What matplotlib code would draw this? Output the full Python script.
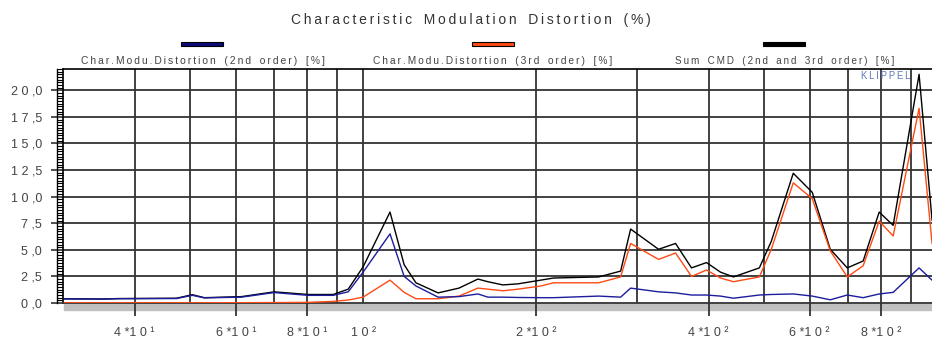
import matplotlib.pyplot as plt
from matplotlib import font_manager
from matplotlib.patches import Rectangle
from matplotlib.lines import Line2D
from matplotlib.ticker import MultipleLocator, NullLocator, FixedLocator

# use a narrow face if there is one, otherwise Liberation Sans
installed = {f.name for f in font_manager.fontManager.ttflist}
face = 'Liberation Sans'
for cand in ['Liberation Sans Narrow', 'Arial Narrow']:
    if cand in installed:
        face = cand
        break
plt.rcParams['font.family'] = [face, 'DejaVu Sans']

# frequency (Hz) and distortion values (%)
freq = [30.2, 35.3, 37.5, 47.3, 50.4, 52.9, 61.4, 70.0, 80.2, 88.7, 94.2, 100,
        111.4, 117.9, 123.6, 135.1, 146.9, 158.5, 165.0, 175.2, 186.1, 204.0,
        214.8, 257.3, 281.0, 292.5, 327.2, 350.3, 373.4, 396.6, 419.5, 441.8,
        490.2, 514.3, 561.7, 606.2, 651.6, 697.6, 743.5, 792.9, 838.6, 930.5, 980.2]
cmd_2nd = [0.38, 0.36, 0.40, 0.42, 0.72, 0.48, 0.55, 0.98, 0.72, 0.72, 1.05, 2.9,
           6.5, 2.5, 1.6, 0.55, 0.6, 0.85, 0.55, 0.55, 0.52, 0.5,
           0.5, 0.65, 0.55, 1.4, 1.05, 0.95, 0.75, 0.75, 0.65, 0.45,
           0.75, 0.8, 0.85, 0.65, 0.3, 0.75, 0.5, 0.85, 1.0, 3.3, 2.15]
cmd_3rd = [0.02, 0.02, 0.02, 0.02, 0.02, 0.02, 0.03, 0.04, 0.06, 0.15, 0.28, 0.55,
           2.15, 1.0, 0.4, 0.4, 0.65, 1.4, 1.3, 1.15, 1.3, 1.6,
           1.9, 1.9, 2.45, 5.6, 4.1, 4.7, 2.5, 3.1, 2.35, 2.0,
           2.45, 5.05, 11.3, 9.8, 4.9, 2.45, 3.5, 7.7, 6.3, 18.3, 5.6]
cmd_sum = [0.40, 0.38, 0.42, 0.45, 0.78, 0.5, 0.6, 1.05, 0.8, 0.8, 1.3, 3.4,
           8.55, 3.6, 1.9, 0.95, 1.4, 2.25, 2.0, 1.7, 1.8, 2.15,
           2.35, 2.45, 3.0, 6.95, 5.05, 5.6, 3.3, 3.8, 2.9, 2.45,
           3.3, 5.8, 12.2, 10.4, 5.05, 3.3, 3.95, 8.55, 7.3, 21.5, 7.8]

y_ticks = [0, 2.5, 5, 7.5, 10, 12.5, 15, 17.5, 20]
y_labels = ['0 ,0', '2 ,5', '5 ,0', '7 ,5', '1 0 ,0', '1 2 ,5', '1 5 ,0', '1 7 ,5', '2 0 ,0']
x_ticks = [40, 60, 80, 100, 200, 400, 600, 800]
x_labels = ['4 *1 0 ¹', '6 *1 0 ¹', '8 *1 0 ¹', '1 0 ²', '2 *1 0 ²', '4 *1 0 ²', '6 *1 0 ²', '8 *1 0 ²']
x_grid = [40, 50, 60, 70, 80, 90, 100, 200, 300, 400, 500, 600, 700, 800, 900]

title = 'Characteristic Modulation Distortion (%)'
names = ['Char.Modu.Distortion (2nd order) [%]',
         'Char.Modu.Distortion (3rd order) [%]',
         'Sum CMD (2nd and 3rd order) [%]']
colors = ['#1c1c9c', '#ff4a14', '#000000']
legend_colors = ['#0a0a78', '#ff4a14', '#000000']

W, H = 932, 338
fig = plt.figure(figsize=(W / 100, H / 100), dpi=100)
ax = fig.add_axes([63 / W, 1 - 303 / H, 1 - 63 / W, (303 - 69) / H])
renderer = fig.canvas.get_renderer()


def spaced(s):
    # letter-spaced look of the original: thin space between letters
    return '   '.join('\u2009'.join(word) for word in s.split(' '))


def fitted_text(x, y, s, width_px, **kw):
    # scale the font so the string covers the same width as in the picture
    t = fig.text(x / W, 1 - y / H, s, fontsize=10, ha='center', va='center', **kw)
    w = t.get_window_extent(renderer).width
    t.set_fontsize(10 * width_px / w)
    return t


ax.set_xscale('log')
ax.set_xlim(30, 980)
ax.set_ylim(0, 22)

for y in y_ticks[1:]:
    ax.axhline(y, color='#333333', lw=1.3, zorder=1)
for x in x_grid:
    ax.axvline(x, color='#333333', lw=1.3, zorder=1)

ax.plot(freq, cmd_sum, color=colors[2], lw=1.0, zorder=3)
ax.plot(freq, cmd_3rd, color=colors[1], lw=1.0, zorder=4)
ax.plot(freq, cmd_2nd, color=colors[0], lw=1.0, zorder=5)

ax.xaxis.set_major_locator(FixedLocator(x_ticks))
ax.xaxis.set_minor_locator(NullLocator())
ax.set_xticklabels(x_labels)
ax.tick_params(axis='x', which='major', length=9, width=1.3, color='#333333',
               labelsize=9, labelcolor='#444444', pad=8)
ax.xaxis.get_major_ticks()[3].tick1line.set_visible(False)

ax.yaxis.set_major_locator(FixedLocator(y_ticks))
ax.yaxis.set_minor_locator(MultipleLocator(0.25))
ax.set_yticklabels(y_labels)
ax.tick_params(axis='y', which='major', length=9, width=1.2, color='#333333',
               labelsize=9, labelcolor='#444444', pad=6)
ax.tick_params(axis='y', which='minor', length=4.3, width=0.8, color='black')

ax.spines['right'].set_visible(False)
ax.spines['top'].set_linewidth(1.2)
ax.spines['left'].set_linewidth(1.2)
ax.spines['bottom'].set_linewidth(1.3)
ax.spines['bottom'].set_color('#333333')

# ladder border and grey band under the axis
fig.add_artist(Line2D([57 / W, 57 / W], [1 - 303 / H, 1 - 69 / H], color='black', lw=1.0))
fig.add_artist(Rectangle((64 / W, 1 - 310 / H), 1 - 64 / W, 6 / H,
                         transform=fig.transFigure, color='#c0c0c0', zorder=-1))

fitted_text(471, 20, spaced(title), 361, color='#333333')

bar_x = [181, 472, 763]
label_x = [203, 493, 785]
label_w = [245, 240, 220]
for bx, lx, lw_, name, c in zip(bar_x, label_x, label_w, names, legend_colors):
    fig.add_artist(Rectangle((bx / W, 1 - 46 / H), 42 / W, 4 / H,
                             transform=fig.transFigure, facecolor=c,
                             edgecolor='black', lw=0.8))
    fitted_text(lx, 61, spaced(name), lw_, color='#444444')

fitted_text(886, 76, spaced('KLIPPEL'), 50, color='#5a78b8')

fig.savefig('out.png', dpi=100)
